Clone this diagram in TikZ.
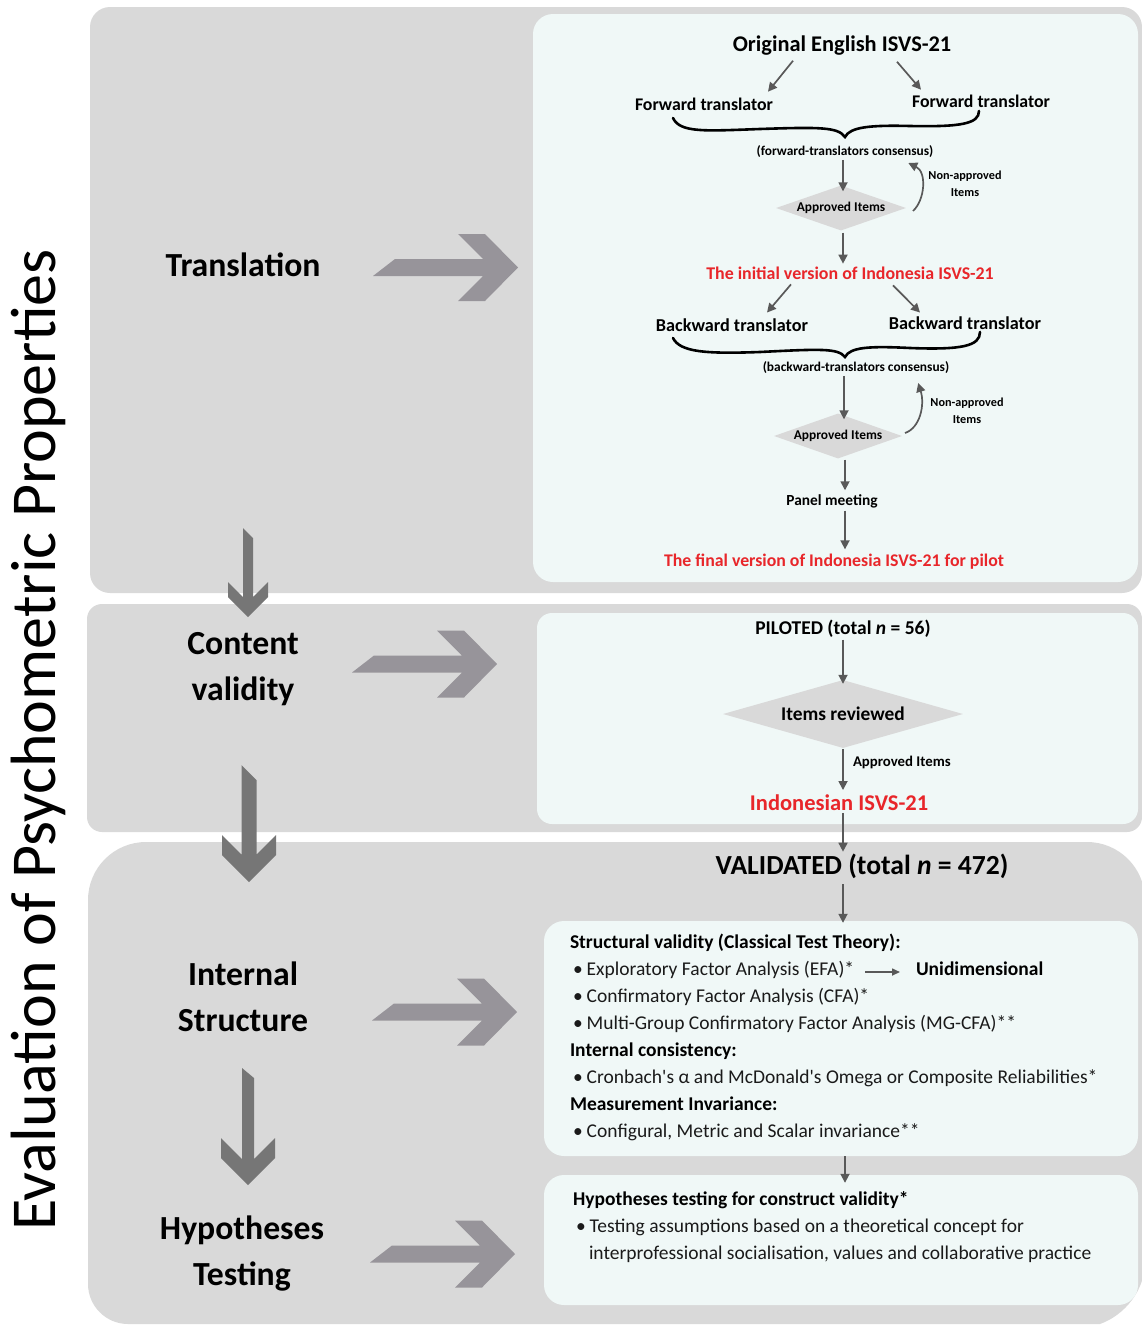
\documentclass[tikz,border=0pt]{standalone}
\usepackage{fontspec}
\setmainfont{Carlito}[Ligatures=TeXOff]
\usetikzlibrary{calc,arrows.meta,shapes.geometric}

\definecolor{panel}{HTML}{D9D9D9}
\definecolor{inner}{HTML}{F0F8F7}
\definecolor{bigH}{HTML}{97949A}
\definecolor{bigV}{HTML}{767676}
\definecolor{conn}{HTML}{595959}
\definecolor{redtxt}{HTML}{E8262A}
\definecolor{body}{HTML}{1A1A1A}

\newcommand\fsz[2]{\fontsize{#1}{#2}\selectfont}

% horizontal block arrow, apex at the given point
\newcommand\bigright[1]{%
  \fill[bigH] ($#1+(-145,8.5)$) -- ++(22,-17) -- ($#1+(-35,-8.5)$)
    -- ($#1+(-60,-33.5)$) -- ($#1+(-33,-33.5)$) -- #1
    -- ($#1+(-33,33.5)$) -- ($#1+(-60,33.5)$) -- ($#1+(-35,8.5)$) -- cycle;}
% vertical block arrow: centre x, top, head top, tip, half head, half shaft, slant
\newcommand\bigdown[7]{%
  \fill[bigV] ({#1-#6},#2) -- ({#1+#6},{#2+#7}) -- ({#1+#6},{#3+#5-#6})
    -- ({#1+#5},#3) -- ({#1+#5},{#4-#5}) -- (#1,#4) -- ({#1-#5},{#4-#5})
    -- ({#1-#5},#3) -- ({#1-#6},{#3+#5-#6}) -- cycle;}

\begin{document}
\begin{tikzpicture}[x=1pt,y=-1pt,
  txt/.style={inner sep=0pt,outer sep=0pt},
  lbl/.style={txt,font=\bfseries\fsz{33.7}{46},align=center},
  hd/.style={txt,font=\bfseries\fsz{#1}{#1}},
  red/.style={hd=#1,text=redtxt},
  small/.style={txt,font=\bfseries\fsz{12.2}{17},align=center},
  line/.style={txt,anchor=base west,font=\fsz{19.5}{27},text=body},
  bline/.style={txt,anchor=base west,font=\bfseries\fsz{19.5}{27}},
  decide/.style={diamond,fill=panel,inner sep=0pt},
  arr/.style={draw=conn,line width=1.7pt,-{Triangle[length=9pt,width=9pt]}},
  brace/.style={draw=black,line width=2.6pt,line cap=round}]

\useasboundingbox (0,0) rectangle (1142,1325);

% ---------- panels ----------
\fill[panel,rounded corners=20] (90,7) rectangle (1142,593);
\fill[panel,rounded corners=15] (87,604) rectangle (1142,832);
\fill[panel] (88,1284) -- (88,900) .. controls (88,868) and (114,842) .. (146,842)
  -- (1087,842) .. controls (1119,842) and (1145,868) .. (1145,900)
  -- (1145,1262) .. controls (1145,1290) and (1125,1315) .. (1100,1324)
  -- (128,1324) .. controls (106,1324) and (88,1306) .. (88,1284) -- cycle;

\fill[inner,rounded corners=20] (533,14) rectangle (1138,582);
\fill[inner,rounded corners=15] (537,613) rectangle (1138,824);
\node[fill=inner,rounded corners=20,minimum width=594,minimum height=235,inner sep=0]
  (boxA) at (841,1038.5) {};
\node[fill=inner,rounded corners=20,minimum width=594,minimum height=130,inner sep=0]
  (boxB) at (841,1240) {};

% ---------- block arrows ----------
\bigright{(518,267.5)}
\bigright{(497,664)}
\bigright{(517,1012)}
\bigright{(515,1254)}
\bigdown{248}{528}{582}{617}{20}{5}{10}
\bigdown{249}{765}{835}{882}{27}{7.5}{15}
\bigdown{248}{1068}{1138}{1185}{27}{6}{10}

% ---------- side title and stage names ----------
\node[txt,rotate=90,font=\fsz{64}{66}] (title) at (38,740) {Evaluation of Psychometric Properties};
\node[lbl] (sTrans) at (243,265) {Translation};
\node[lbl] (sCont) at (243,669) {Content\\validity};
\node[lbl] (sInt) at (243,997) {Internal\\Structure};
\node[lbl] (sHyp) at (242,1254) {Hypotheses\\Testing};

% ---------- translation flow ----------
\node[hd=22.4] (orig) at (842,46) {Original English ISVS-21};
\node[hd=17.8] (fwdL) at (704,104) {Forward translator};
\node[hd=17.8] (fwdR) at (981,101) {Forward translator};
\draw[arr] ($(orig.south)+(-49,5)$) -- ($(fwdL.north)+(64,-6)$);
\draw[arr] ($(orig.south)+(55,6)$) -- ($(fwdR.north)+(-60,-5)$);
\draw[brace] (673,118) .. controls (680,133) and (705,131) .. (760,129)
  .. controls (820,127) and (838,127) .. (845,137)
  .. controls (850,127) and (870,125) .. (910,126)
  .. controls (960,127) and (979,124) .. (979,111);
\node[hd=13.4] (fcons) at (845,152) {(forward-translators consensus)};
\node[decide,aspect=2.9,minimum width=130,minimum height=45,font=\bfseries\fsz{13.4}{13.4}] (dia1) at (841,208) {Approved Items};
\draw[arr,shorten <=2pt,shorten >=-6pt] (fcons.south -| 843,0) -- (dia1.north -| 843,0);
\draw[arr] (913,211) .. controls (925,200) and (927,172) .. ($(fcons.south east)+(-25,5)$);
\node[small] (na1) at (965,184) {Non-approved\\Items};
\node[red=17.9] (init) at (850,273) {The initial version of Indonesia ISVS-21};
\draw[arr,shorten <=2pt,shorten >=3pt] (dia1.south -| 843,0) -- (init.north -| 843,0);
\node[hd=18.2] (bwdL) at (732,325) {Backward translator};
\node[hd=18.2] (bwdR) at (965,323) {Backward translator};
\draw[arr] ($(init.south)+(-59,5)$) -- ($(bwdL.north)+(35,-6)$);
\draw[arr] ($(init.south)+(43,6)$) -- ($(bwdR.north)+(-45,-4)$);
\draw[brace] (673,338) .. controls (680,352) and (705,354) .. (760,352)
  .. controls (820,349) and (838,348) .. (845,357)
  .. controls (850,347) and (870,346) .. (910,348)
  .. controls (962,350) and (980,346) .. (980,332);
\node[hd=13.4] (bcons) at (856,368) {(backward-translators consensus)};
\node[decide,aspect=2.85,minimum width=128,minimum height=45,font=\bfseries\fsz{13.4}{13.4}] (dia2) at (838,436) {Approved Items};
\draw[arr,shorten <=2pt,shorten >=-6pt] (bcons.south -| 844,0) -- (dia2.north -| 844,0);
\draw[arr] (905,433) .. controls (920,428) and (925,405) .. ($(bcons.south east)+(-31,9)$);
\node[small] (na2) at (967,411) {Non-approved\\Items};
\node[hd=15.4] (meet) at (832,501) {Panel meeting};
\draw[arr,shorten <=1pt,shorten >=4pt] (dia2.south -| 845,0) -- (meet.north -| 845,0);
\node[red=17.8] (final) at (834,562) {The final version of Indonesia ISVS-21 for pilot};
\draw[arr,shorten <=3pt,shorten >=5pt] (meet.south -| 845,0) -- (final.north -| 845,0);

% ---------- content validity flow ----------
\node[hd=19.5] (pilot) at (843,629) {PILOTED (total \textit{n} = 56)};
\node[decide,aspect=3.5,minimum width=240,minimum height=68,font=\bfseries\fsz{19.4}{19.4}] (dia3) at (843,714) {Items reviewed};
\draw[arr,shorten <=2pt,shorten >=-4pt] (pilot.south) -- (dia3.north);
\node[hd=22.5] (indo) at (839,803) {\textcolor{redtxt}{Indonesian ISVS-21}};
\draw[arr,shorten <=1pt,shorten >=5pt] (dia3.south) -- (indo.north -| dia3.south);
\node[hd=14.8,anchor=west] (apr) at (853,762) {Approved Items};

% ---------- internal structure ----------
\node[hd=27.6] (valid) at (862,866) {VALIDATED (total \textit{n} = 472)};
\draw[arr,shorten <=2pt] (indo.south -| 843,0) -- ($(valid.north -| 843,0)+(0,-2)$);
\draw[arr,shorten <=6pt,shorten >=-2pt] (valid.south -| 843,0) -- (boxA.north -| 843,0);

\node[bline] (sv) at (570,948) {Structural validity (Classical Test Theory):};
\node[line] (efa) at (573,975) {•\hspace{4pt}Exploratory Factor Analysis (EFA)*};
\node[bline] (uni) at (916,975) {Unidimensional};
\draw[draw=conn,line width=1.6pt,-{Triangle[length=8pt,width=7pt]}] (efa.east |- 0,972) ++(11,0) -- ($(uni.west |- 0,972)+(-16,0)$);
\node[line] (cfa) at (573,1002) {•\hspace{4pt}Confirmatory Factor Analysis (CFA)*};
\node[line] (mg) at (573,1029) {•\hspace{4pt}Multi-Group Confirmatory Factor Analysis (MG-CFA)**};
\node[bline] (ic) at (570,1056) {Internal consistency:};
\node[line] (cr) at (573,1083) {•\hspace{4pt}Cronbach's α and McDonald's Omega or Composite Reliabilities*};
\node[bline] (mi) at (570,1110) {Measurement Invariance:};
\node[line] (cm) at (573,1137) {•\hspace{4pt}Configural, Metric and Scalar invariance**};

\draw[arr,shorten >=-8pt] (boxA.south -| 845,0) -- (boxB.north -| 845,0);

\node[bline] (ht) at (573,1205) {Hypotheses testing for construct validity*};
\node[line] (ta) at (576,1232) {•\hspace{4pt}Testing assumptions based on a theoretical concept for};
\node[line] (ip) at (589,1259) {interprofessional socialisation, values and collaborative practice};
\end{tikzpicture}
\end{document}
